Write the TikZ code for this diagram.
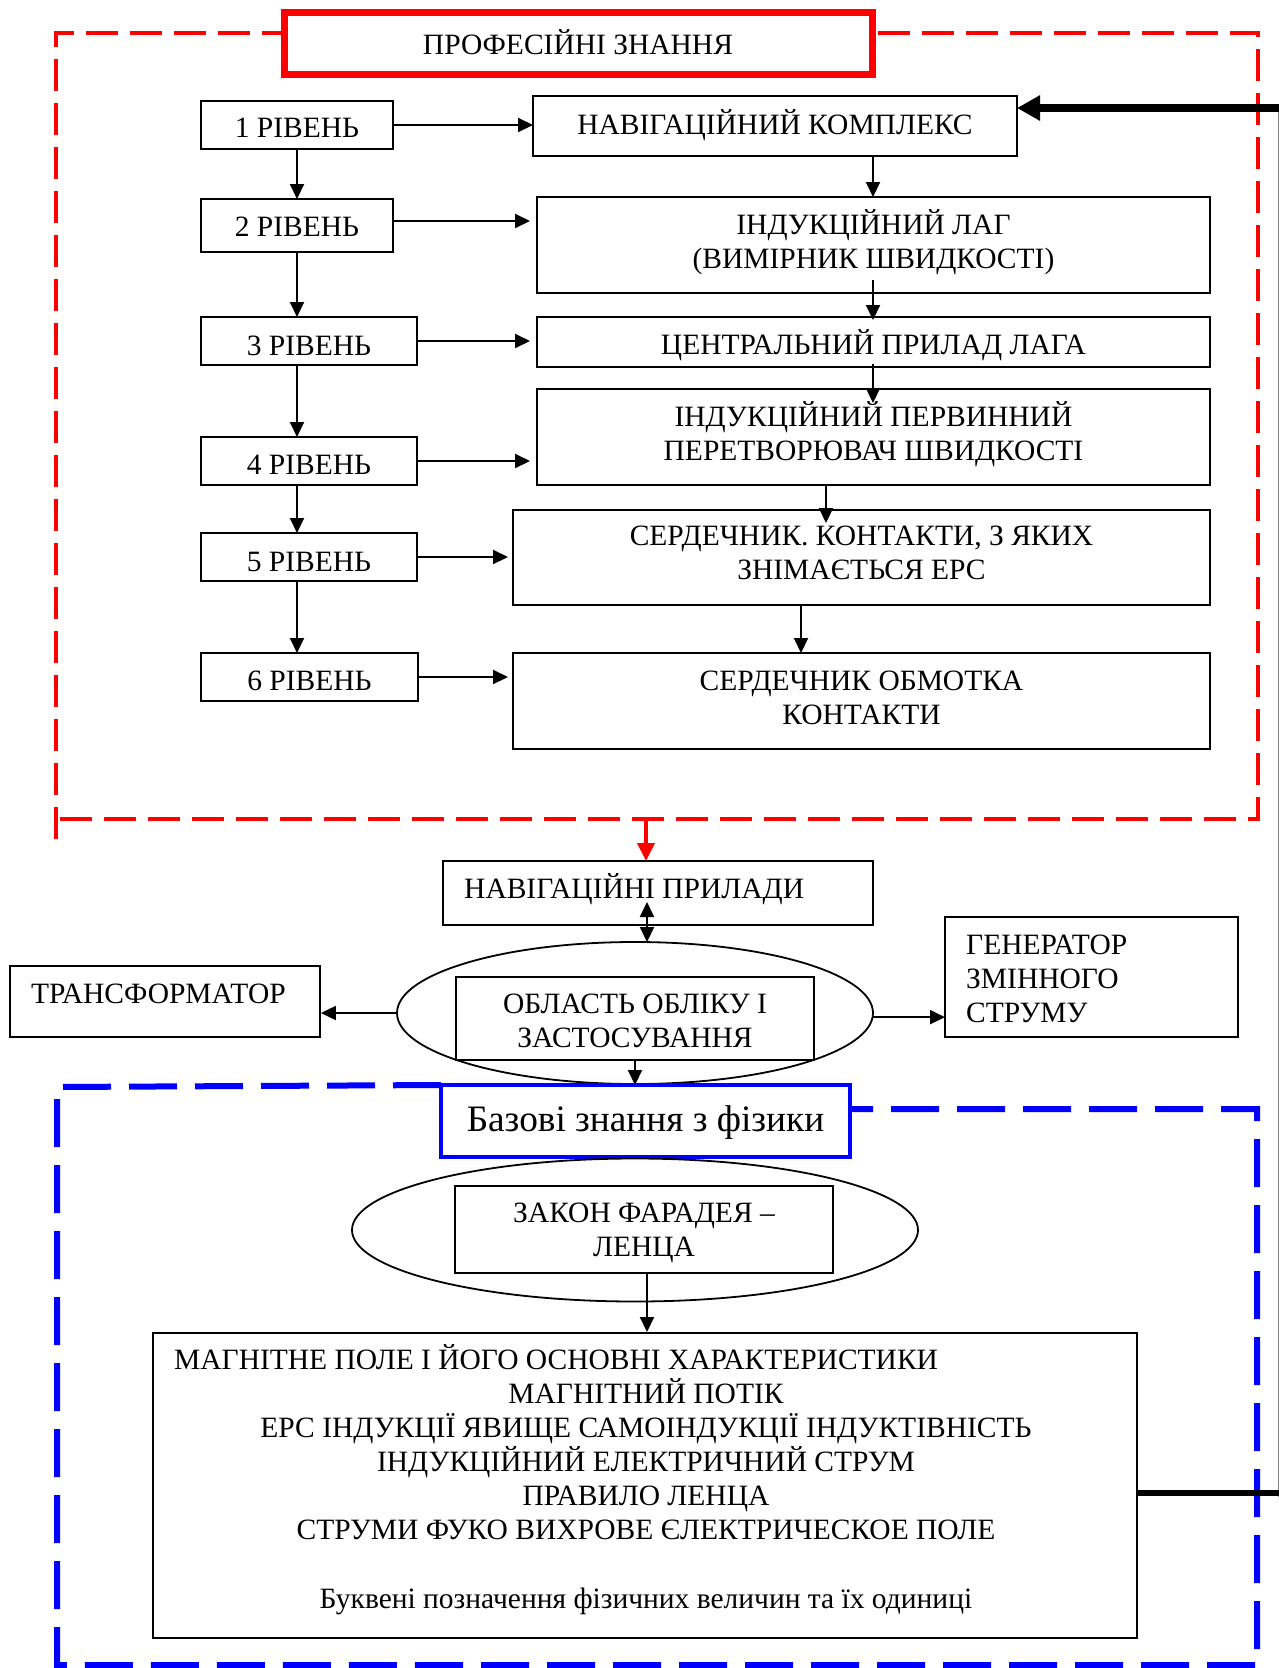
\documentclass[tikz,border=0pt]{standalone}
\usepackage{fontspec}
\setmainfont{Liberation Serif}
\usetikzlibrary{arrows.meta,shapes.geometric}
\definecolor{rred}{RGB}{255,0,0}
\definecolor{bblue}{RGB}{0,0,255}
\begin{document}
\begin{tikzpicture}[x=1pt,y=-1pt,
  box/.style={draw, line width=2pt, inner sep=0pt, outer sep=0pt, align=center,
    font=\fontsize{29.5}{34}\selectfont, fill=white},
  sh/.style={text height=#1, text depth=0pt},
  arr/.style={line width=2pt, -{Triangle[length=15pt,width=14pt]}},
  txt/.style={inner sep=0pt, font=\fontsize{29.5}{34}\selectfont, text height=19.5pt, text depth=0pt},
  mtxt/.style={inner sep=0pt, align=center, font=\fontsize{29.5}{34}\selectfont},
  ell/.style={draw, ellipse, line width=1.8pt, inner sep=0pt, outer sep=0pt},
  reddash/.style={draw=rred, line width=4pt, dash pattern=on 32pt off 12pt},
  bluedash/.style={draw=bblue, line width=6pt, dash pattern=on 48pt off 18pt},
]
\useasboundingbox (0,0) rectangle (1279,1668);

% red dashed frame
\coordinate (rA) at (56,839);
\coordinate (rB) at (56,33);
\coordinate (rC) at (1258,33);
\coordinate (rD) at (1258,819);
\coordinate (rE) at (56,819);
\draw[reddash] (rA) -- (rB) -- (rC) -- (rD) -- (rE);

% title
\node[draw=rred, line width=7pt, fill=white, minimum width=588pt, minimum height=62pt,
  inner sep=0pt, font=\fontsize{29.5}{34}\selectfont, sh=22.9pt] (T) at (578,43) {ПРОФЕСІЙНІ ЗНАННЯ};

% level boxes
\node[box, sh=24.9pt, minimum width=192pt, minimum height=48pt] (L1) at (297,125) {1 РІВЕНЬ};
\node[box, sh=21.7pt, minimum width=192pt, minimum height=53pt] (L2) at (297,225.5) {2 РІВЕНЬ};
\node[box, sh=29.1pt, minimum width=216pt, minimum height=48pt] (L3) at (309,341) {3 РІВЕНЬ};
\node[box, sh=27.5pt, minimum width=216pt, minimum height=48pt] (L4) at (309,461) {4 РІВЕНЬ};
\node[box, sh=29.1pt, minimum width=216pt, minimum height=48pt] (L5) at (309,557) {5 РІВЕНЬ};
\node[box, sh=27.5pt, minimum width=217pt, minimum height=48pt] (L6) at (309.5,677) {6 РІВЕНЬ};

% right boxes
\node[box, text height=19.5pt, text depth=3pt, minimum width=484pt, minimum height=60pt] (NK) at (775,126) {НАВІГАЦІЙНИЙ КОМПЛЕКС};
\node[box, minimum width=673pt, minimum height=96pt] (LAG) at (873.5,245) {};
\node[mtxt] (LAGt) at (873.5,241.8) {ІНДУКЦІЙНИЙ ЛАГ\\(ВИМІРНИК ШВИДКОСТІ)};
\node[box, sh=24.9pt, minimum width=673pt, minimum height=50pt] (CP) at (873.5,342) {ЦЕНТРАЛЬНИЙ ПРИЛАД ЛАГА};
\node[box, minimum width=673pt, minimum height=96pt] (PP) at (873.5,437) {};
\node[mtxt] (PPt) at (873.5,434.3) {ІНДУКЦІЙНИЙ ПЕРВИННИЙ\\ПЕРЕТВОРЮВАЧ ШВИДКОСТІ};
\node[box, minimum width=697pt, minimum height=95pt] (SK) at (861.5,557.5) {};
\node[mtxt] (SKt) at (861.5,553.2) {СЕРДЕЧНИК. КОНТАКТИ, З ЯКИХ\\ЗНІМАЄТЬСЯ ЕРС};
\node[box, minimum width=697pt, minimum height=96pt] (SO) at (861.5,701) {};
\node[mtxt] (SOt) at (861.5,698.3) {СЕРДЕЧНИК ОБМОТКА\\КОНТАКТИ};

% level column arrows
\coordinate (lx) at (297,0);
\draw[arr] (lx |- L1.south) -- (lx |- L2.north);
\draw[arr] (lx |- L2.south) -- (lx |- L3.north);
\draw[arr] (lx |- L3.south) -- (lx |- L4.north);
\draw[arr] (lx |- L4.south) -- (lx |- L5.north);
\draw[arr] (lx |- L5.south) -- (lx |- L6.north);

% right column arrows
\coordinate (rx) at (873,0);
\coordinate (rx2) at (826,0);
\coordinate (rx3) at (801,0);
\draw[arr] (rx |- NK.south) -- (rx |- LAG.north);
\draw[arr, shorten <=-13pt, shorten >=-3pt] (rx |- LAG.south) -- (rx |- CP.north);
\draw[arr, shorten <=-3pt, shorten >=-14pt] (rx |- CP.south) -- (rx |- PP.north);
\draw[arr, shorten >=-13pt] (rx2 |- PP.south) -- (rx2 |- SK.north);
\draw[arr] (rx3 |- SK.south) -- (rx3 |- SO.north);

% level -> right boxes
\draw[arr] (L1.east) -- (L1.east -| NK.west);
\draw[arr, shorten >=7pt] ([yshift=4.5pt]L2.east) -- ([yshift=4.5pt]L2.east -| LAG.west);
\draw[arr, shorten >=7pt] (L3.east) -- (L3.east -| CP.west);
\draw[arr, shorten >=7pt] (L4.east) -- (L4.east -| PP.west);
\draw[arr, shorten >=5pt] (L5.east) -- (L5.east -| SK.west);
\draw[arr, shorten >=5pt] (L6.east) -- (L6.east -| SO.west);

% navigation instruments
\node[box, minimum width=430pt, minimum height=64pt] (NP) at (658,893) {};
\node[txt, anchor=west] (NPt) at (464,888.4) {НАВІГАЦІЙНІ ПРИЛАДИ};
\coordinate (redB) at (646,819);
\draw[rred, line width=4pt, -{Triangle[length=18pt,width=17pt]}] (redB) -- (redB |- NP.north);

% ellipse OB
\node[ell, minimum width=476pt, minimum height=142pt] (OB) at (635,1013) {};
\node[box, minimum width=358pt, minimum height=83pt] (OBin) at (635,1018.5) {};
\node[mtxt] (OBt) at (635,1021.2) {ОБЛАСТЬ ОБЛІКУ І\\ЗАСТОСУВАННЯ};
\coordinate (dx) at (647,0);
\draw[line width=2pt, {Triangle[length=15pt,width=14pt]}-{Triangle[length=15pt,width=14pt]}, shorten <=-23pt]
  (dx |- NP.south) -- (dx |- OB.north);

% transformer
\node[draw, line width=1.8pt, inner sep=0pt, minimum width=310pt, minimum height=71pt] (TR) at (165,1001.5) {};
\node[txt, anchor=west] (TRt) at (31,994) {ТРАНСФОРМАТОР};
\draw[arr] (OB.west) -- (OB.west -| TR.east);

% generator
\node[box, line width=1.8pt, minimum width=293pt, minimum height=120pt] (GEN) at (1091.5,977) {};
\node[mtxt, align=left, anchor=west] (GENt) at (966,978.6) {ГЕНЕРАТОР\\ЗМІННОГО\\СТРУМУ};
\draw[arr] (OB.-1.7) -- (OB.-1.7 -| GEN.west);

% blue frame
\node[draw=bblue, line width=4.5pt, fill=white, inner sep=0pt, outer sep=0pt, minimum width=409pt, minimum height=72pt,
  font=\fontsize{37.3}{44}\selectfont, text height=25.7pt, text depth=4pt] (BZ) at (645.5,1121) {Базові знання з фізики};
\coordinate (bA) at (57,1087);
\coordinate (bB) at (57,1665);
\coordinate (bC) at (1257,1665);
\coordinate (bD) at (1257,1109);
\draw[bluedash] (BZ.north west) -- (bA) -- (bB) -- (bC) -- (bD) -- (bD -| BZ.east);
\draw[arr] (OBin.south) -- (OBin.south |- BZ.north);

% ellipse ZK
\node[ell, minimum width=566pt, minimum height=143pt] (ZK) at (635,1230) {};
\node[box, minimum width=378pt, minimum height=87pt] (ZKin) at (644,1229.5) {};
\node[mtxt] (ZKt) at (644,1233.2) {ЗАКОН ФАРАДЕЯ –\\ЛЕНЦА};

% big box
\node[draw, line width=2pt, inner sep=0pt, minimum width=984pt, minimum height=305pt] (BIG) at (645,1485.5) {};
\draw[arr] (dx |- ZKin.south) -- (dx |- BIG.north);
\node[txt, anchor=west] (b1) at (174,1360) {МАГНІТНЕ ПОЛЕ І ЙОГО ОСНОВНІ ХАРАКТЕРИСТИКИ};
\node[txt] (b2) at (646,1394) {МАГНІТНИЙ ПОТІК};
\node[txt] (b3) at (646,1428) {ЕРС ІНДУКЦІЇ ЯВИЩЕ САМОІНДУКЦІЇ ІНДУКТІВНІСТЬ};
\node[txt] (b4) at (646,1462) {ІНДУКЦІЙНИЙ ЕЛЕКТРИЧНИЙ СТРУМ};
\node[txt] (b5) at (646,1496) {ПРАВИЛО ЛЕНЦА};
\node[txt] (b6) at (646,1530) {СТРУМИ ФУКО ВИХРОВЕ ЄЛЕКТРИЧЕСКОЕ ПОЛЕ};
\node[txt] (b7) at (646,1599) {Буквені позначення фізичних величин та їх одиниці};

% right-edge connector
\coordinate (eT) at (1279,108);
\coordinate (eB) at (1279,1493);
\coordinate (gT) at (1278.5,112);
\coordinate (gB) at (1278.5,1497);
\draw[gray, line width=1pt] (gT) -- (gB);
\draw[line width=6pt] (BIG.east |- eB) -- (eB);
\draw[line width=8pt, -{Triangle[length=23pt,width=24pt]}] (eT) -- (eT -| NK.east);
\end{tikzpicture}
\end{document}
